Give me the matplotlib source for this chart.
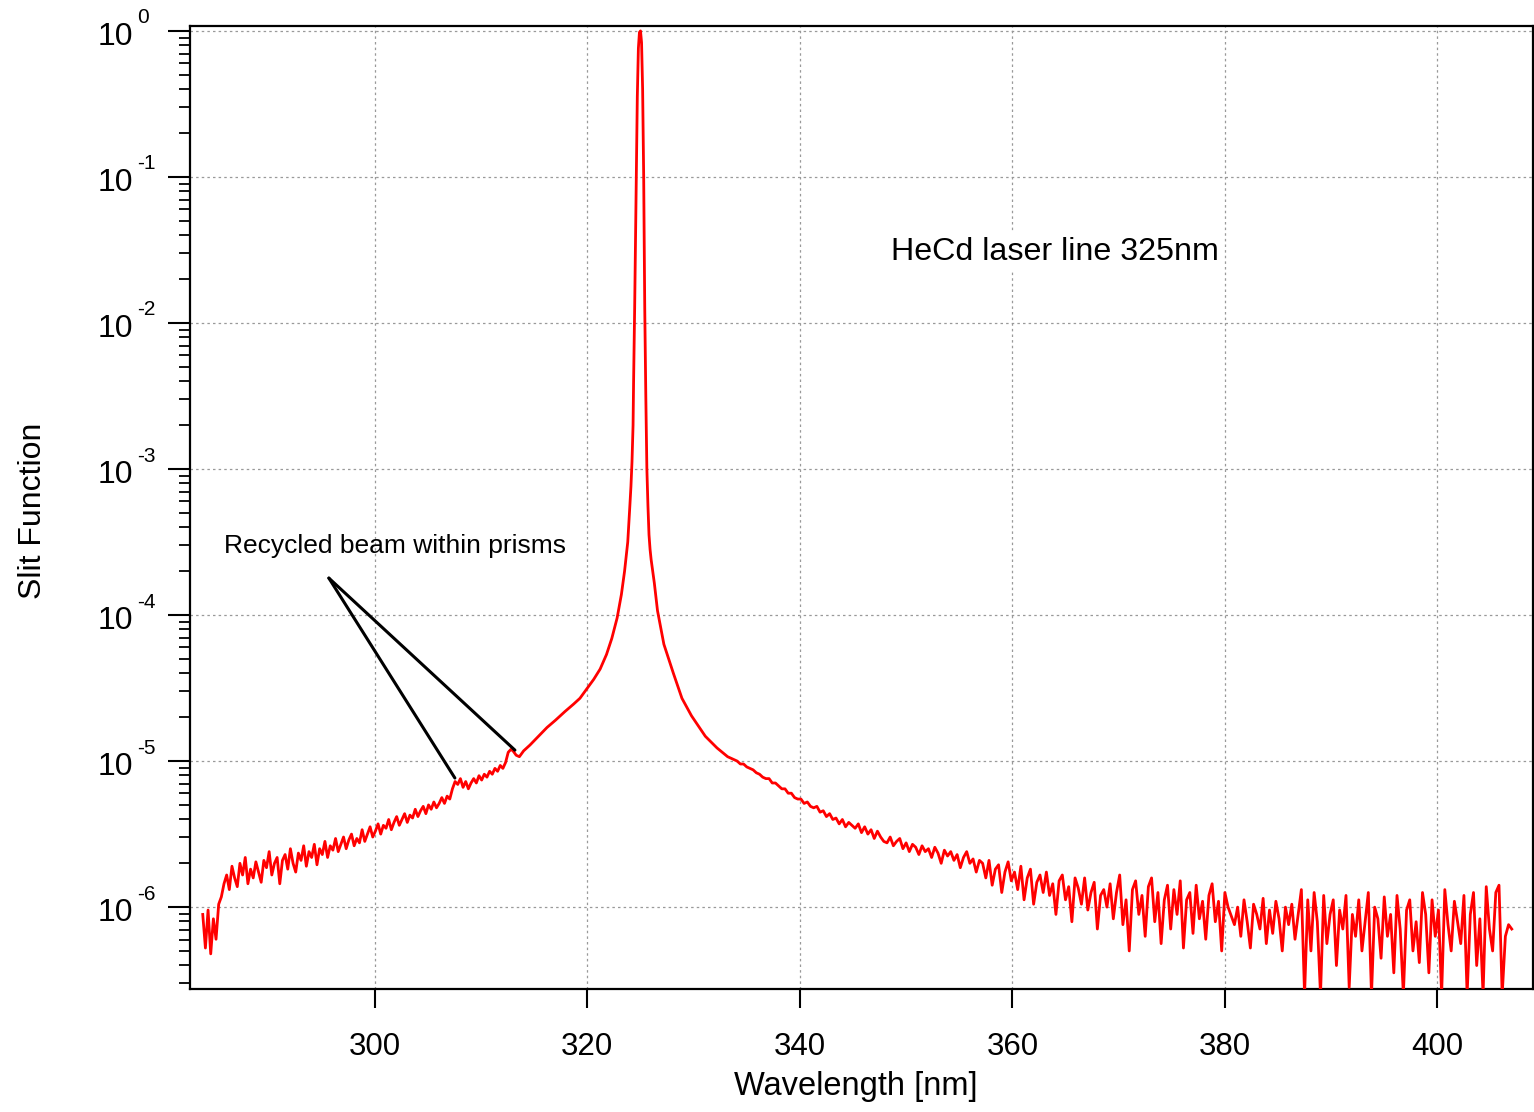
import numpy as np
import matplotlib
import matplotlib.pyplot as plt
from matplotlib.ticker import LogLocator, NullFormatter

matplotlib.use("Agg")
plt.rcParams["font.family"] = ["Liberation Sans", "DejaVu Sans"]

# log10 of slit function
# short-wavelength side, sampled every 0.25 nm from 283.8 nm
left_log10 = [
    -6.05, -6.28, -6.02, -6.32, -6.08, -6.22, -5.98, -5.93, -5.84, -5.78,
    -5.88, -5.72, -5.80, -5.86, -5.70, -5.78, -5.66, -5.84, -5.74, -5.80,
    -5.69, -5.76, -5.83, -5.68, -5.73, -5.62, -5.78, -5.70, -5.66, -5.84,
    -5.68, -5.64, -5.74, -5.60, -5.70, -5.76, -5.63, -5.68, -5.58, -5.72,
    -5.62, -5.66, -5.57, -5.71, -5.60, -5.64, -5.55, -5.66, -5.58, -5.61,
    -5.53, -5.62, -5.57, -5.52, -5.60, -5.54, -5.50, -5.58, -5.53, -5.56,
    -5.47, -5.55, -5.50, -5.45, -5.52, -5.48, -5.43, -5.50, -5.44, -5.46,
    -5.40, -5.47, -5.42, -5.38, -5.44, -5.40, -5.36, -5.42, -5.37, -5.39,
    -5.33, -5.38, -5.34, -5.31, -5.36, -5.30, -5.33, -5.28, -5.32, -5.29,
    -5.25, -5.29, -5.24, -5.26, -5.19, -5.14, -5.16, -5.12, -5.18, -5.14,
    -5.19, -5.15, -5.12, -5.15, -5.10, -5.13, -5.09, -5.11, -5.07, -5.09,
    -5.05, -5.07, -5.03, -5.05, -5.01, -4.94, -4.92,
]

# around the laser line
peak_wl = [
    313.0, 313.3, 313.6, 314.0, 314.6, 315.4, 316.2, 317.0, 317.9, 318.7,
    319.3, 320.0, 320.6, 321.2, 321.8, 322.3, 322.8, 323.2, 323.5, 323.65,
    323.8, 323.9, 324.0, 324.1, 324.2, 324.3, 324.35, 324.45, 324.6, 324.7,
    324.8, 324.9, 325.0, 325.1, 325.2, 325.3, 325.4, 325.5, 325.6, 325.7,
    325.8, 325.9, 326.0, 326.3, 326.6, 327.2, 328.1, 328.9, 329.8, 331.1,
    332.2,
]
peak_log10 = [
    -4.93, -4.96, -4.97, -4.93, -4.89, -4.83, -4.77, -4.72, -4.66, -4.61,
    -4.57, -4.50, -4.44, -4.37, -4.27, -4.16, -4.02, -3.86, -3.70, -3.60,
    -3.50, -3.38, -3.25, -3.12, -2.95, -2.70, -2.40, -1.90, -1.00, -0.45,
    -0.12, -0.01, 0.00, -0.08, -0.40, -1.00, -1.90, -2.50, -3.00, -3.25,
    -3.45, -3.55, -3.62, -3.78, -3.97, -4.20, -4.40, -4.57, -4.69, -4.83,
    -4.91,
]

# long-wavelength tail, sampled every 0.3 nm from 333.2 nm
right_log10 = [
    -4.97, -4.98, -4.99, -5.00, -5.02, -5.02, -5.04, -5.05, -5.06, -5.08,
    -5.09, -5.11, -5.12, -5.12, -5.15, -5.15, -5.17, -5.19, -5.19, -5.22,
    -5.22, -5.25, -5.26, -5.26, -5.29, -5.28, -5.31, -5.32, -5.31, -5.35,
    -5.34, -5.38, -5.36, -5.40, -5.39, -5.43, -5.40, -5.45, -5.42, -5.44,
    -5.46, -5.43, -5.49, -5.45, -5.50, -5.47, -5.53, -5.48, -5.52, -5.55,
    -5.56, -5.52, -5.58, -5.55, -5.53, -5.60, -5.56, -5.62, -5.57, -5.59,
    -5.64, -5.58, -5.62, -5.60, -5.66, -5.59, -5.63, -5.70, -5.61, -5.65,
    -5.62, -5.68, -5.64, -5.73, -5.66, -5.62, -5.70, -5.67, -5.76, -5.68,
    -5.70, -5.80, -5.68, -5.85, -5.74, -5.71, -5.90, -5.76, -5.69, -5.82,
    -5.76, -5.88, -5.72, -5.95, -5.80, -5.74, -5.98, -5.83, -5.78, -5.90,
    -5.76, -5.92, -5.84, -6.05, -5.82, -5.78, -5.95, -5.86, -6.10, -5.80,
    -5.87, -5.98, -5.80, -6.02, -5.90, -5.83, -6.15, -5.92, -5.88, -6.00,
    -5.84, -6.08, -5.90, -5.78, -6.12, -5.95, -6.30, -5.88, -5.82, -6.05,
    -5.92, -6.20, -5.86, -5.80, -6.10, -5.90, -6.25, -5.95, -5.85, -6.15,
    -5.88, -6.05, -5.82, -6.28, -5.95, -5.90, -6.18, -5.85, -6.08, -5.96,
    -6.22, -5.92, -5.84, -6.10, -5.96, -6.30, -5.90, -6.00, -6.06, -6.12,
    -6.00, -6.20, -5.95, -6.10, -6.28, -5.98, -6.05, -6.15, -5.94, -6.25,
    -6.02, -6.18, -5.96, -6.08, -6.30, -6.00, -6.12, -5.98, -6.22, -6.05,
    -5.88, -6.60, -5.95, -6.30, -5.90, -6.10, -6.60, -5.92, -6.25, -6.05,
    -5.95, -6.40, -6.02, -6.15, -5.92, -6.55, -6.05, -6.20, -5.95, -6.30,
    -6.10, -5.90, -6.60, -6.00, -6.08, -6.35, -5.93, -6.20, -6.05, -6.45,
    -5.92, -6.15, -6.60, -6.02, -5.95, -6.30, -6.10, -6.38, -5.90, -6.05,
    -6.45, -5.95, -6.20, -6.02, -6.60, -5.88, -6.12, -6.30, -5.96, -6.10,
    -6.25, -5.92, -6.60, -6.05, -5.90, -6.40, -6.08, -6.60, -5.86, -6.15,
    -6.30, -5.90, -5.85, -6.60, -6.20, -6.12, -6.15,
]

x_ticks = [300, 320, 340, 360, 380, 400]
decades = [-6, -5, -4, -3, -2, -1, 0]

# annotation anchors (wavelength, log10)
arrow_tail = (295.67, -3.747)
arrow_heads = [(307.53, -5.116), (313.18, -4.925)]

wl_left = 283.8 + 0.25 * np.arange(len(left_log10))
wl_right = 333.2 + 0.3 * np.arange(len(right_log10))
wl = np.concatenate([wl_left, peak_wl, wl_right])
slit = 10.0 ** np.concatenate([left_log10, peak_log10, right_log10])

W, H = 1534, 1112
fig = plt.figure(figsize=(W / 100, H / 100), dpi=100)
ax = fig.add_axes([190 / W, 1 - 989 / H, 1343 / W, 963 / H])

ax.plot(wl, slit, color="red", lw=2.0, zorder=3)

ax.set_yscale("log")
ax.set_xlim(282.6, 409.0)
ax.set_ylim(2.75e-7, 1.08)

ax.set_xticks(x_ticks)
ax.set_yticks([10.0 ** k for k in decades])
ax.yaxis.set_major_formatter(NullFormatter())
ax.yaxis.set_minor_locator(LogLocator(base=10, subs=np.arange(2, 10)))
ax.yaxis.set_minor_formatter(NullFormatter())
ax.tick_params(axis="x", direction="out", length=14, width=1.5, labelsize=22.5, pad=17)
ax.tick_params(axis="y", which="major", direction="out", length=16, width=1.5)
ax.tick_params(axis="y", which="minor", direction="out", length=8, width=1.3)

for s in ax.spines.values():
    s.set_linewidth(1.6)
    s.set_color("black")

ax.grid(True, which="major", color="#999999", linestyle=(0, (2, 2.5)), lw=0.9)
ax.set_axisbelow(True)

# y tick labels as "10" with raised exponent
for k in decades:
    ax.annotate("10", xy=(0, 10.0 ** k), xycoords=("axes fraction", "data"),
                xytext=(-57, -6), textcoords="offset pixels",
                ha="right", va="center", fontsize=23)
    ax.annotate(str(k), xy=(0, 10.0 ** k), xycoords=("axes fraction", "data"),
                xytext=(-53, 13), textcoords="offset pixels",
                ha="left", va="center", fontsize=15)

ax.set_xlabel("Wavelength [nm]", fontsize=23.5, labelpad=11)
ax.xaxis.set_label_coords(0.496, -0.085)
ax.set_ylabel("Slit Function", fontsize=23)
ax.yaxis.set_label_coords(-0.106, 0.497)

ax.text(348.6, 10 ** -1.514, "HeCd laser line 325nm", fontsize=23.2,
        ha="left", va="center",
        bbox=dict(facecolor="white", edgecolor="none", pad=3))
ax.text(285.8, 10 ** -3.527, "Recycled beam within prisms", fontsize=19,
        ha="left", va="center")

for hx, hy in arrow_heads:
    ax.annotate("", xy=(hx, 10 ** hy), xytext=(arrow_tail[0], 10 ** arrow_tail[1]),
                arrowprops=dict(arrowstyle="-", color="black", lw=2.2,
                                shrinkA=0, shrinkB=0))

fig.savefig("out.png", dpi=100)
